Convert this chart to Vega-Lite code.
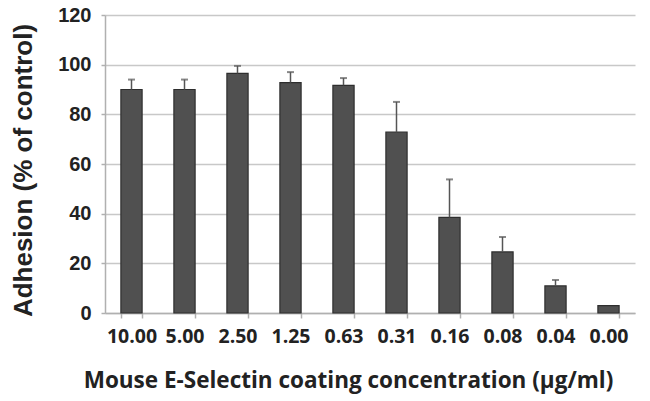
{
  "$schema": "https://vega.github.io/schema/vega-lite/v6.json",
  "width": 530,
  "height": 298,
  "autosize": {"type": "none"},
  "padding": {"left": 105, "top": 15, "right": 15, "bottom": 88},
  "background": "white",
  "config": {"view": {"stroke": null}},
  "data": {
    "values": [
      {"conc": "10.00", "adhesion": 90, "upper": 94},
      {"conc": "5.00", "adhesion": 90, "upper": 94},
      {"conc": "2.50", "adhesion": 96.5, "upper": 99.5},
      {"conc": "1.25", "adhesion": 92.8, "upper": 97},
      {"conc": "0.63", "adhesion": 91.7, "upper": 94.6},
      {"conc": "0.31", "adhesion": 72.8, "upper": 85},
      {"conc": "0.16", "adhesion": 38.5, "upper": 53.8},
      {"conc": "0.08", "adhesion": 24.6, "upper": 30.6},
      {"conc": "0.04", "adhesion": 10.9, "upper": 13.3},
      {"conc": "0.00", "adhesion": 3, "upper": 3}
    ]
  },
  "encoding": {
    "x": {
      "field": "conc",
      "type": "nominal",
      "sort": null,
      "scale": {"paddingInner": 0.6, "paddingOuter": 0.3},
      "axis": {
        "title": "Mouse E-Selectin coating concentration (µg/ml)",
        "labelAngle": 0,
        "labelFont": "Open Sans",
        "labelFontWeight": "bold",
        "labelFontSize": 19.5,
        "labelColor": "#222222",
        "labelPadding": 9,
        "tickBand": "extent",
        "tickColor": "#b0b0b0",
        "tickSize": 5,
        "tickWidth": 1.5,
        "domainColor": "#b0b0b0",
        "domainWidth": 1.5,
        "titleFont": "Open Sans",
        "titleFontWeight": "bold",
        "titleFontSize": 22.5,
        "titleColor": "#222222",
        "titleX": 243,
        "titleY": 74,
        "titleAlign": "center",
        "titleBaseline": "alphabetic"
      }
    }
  },
  "layer": [
    {
      "mark": {"type": "bar", "color": "#505050", "stroke": "#2e2e2e", "strokeWidth": 1.2},
      "encoding": {
        "y": {
          "field": "adhesion",
          "type": "quantitative",
          "scale": {"domain": [0, 120], "nice": false},
          "axis": {
            "title": "Adhesion (% of control)",
            "values": [0, 20, 40, 60, 80, 100, 120],
            "labelFont": "Liberation Sans",
            "labelFontWeight": "bold",
            "labelFontSize": 20,
            "labelColor": "#222222",
            "labelPadding": 10,
            "tickColor": "#b0b0b0",
            "tickSize": 4,
            "tickWidth": 1.5,
            "domainColor": "#b0b0b0",
            "domainWidth": 1.5,
            "grid": true,
            "gridColor": "#c8c8c8",
            "gridWidth": 1.5,
            "titleFont": "Liberation Sans",
            "titleFontWeight": "bold",
            "titleFontSize": 26,
            "titleColor": "#222222",
            "titleAngle": -90,
            "titleX": -82,
            "titleY": 155,
            "titleAlign": "center",
            "titleBaseline": "middle"
          }
        }
      }
    },
    {
      "mark": {"type": "rule", "color": "#555555", "strokeWidth": 1.5},
      "encoding": {
        "y": {"field": "adhesion", "type": "quantitative"},
        "y2": {"field": "upper"}
      }
    },
    {
      "transform": [{"filter": "datum.upper > datum.adhesion"}],
      "mark": {"type": "tick", "color": "#555555", "size": 7, "thickness": 2},
      "encoding": {
        "y": {"field": "upper", "type": "quantitative"}
      }
    }
  ]
}
